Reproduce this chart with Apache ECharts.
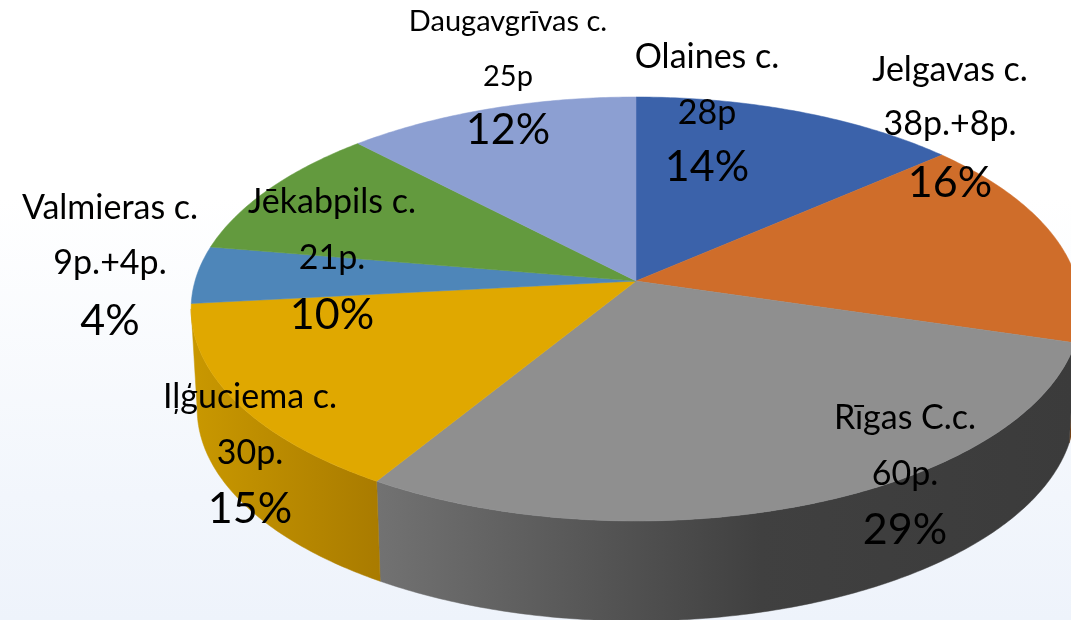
<!DOCTYPE html>
<html>
<head>
<meta charset="utf-8">
<style>html,body{margin:0;padding:0;background:#fff}#c{width:1071px;height:620px}</style>
<script src="https://cdn.jsdelivr.net/npm/echarts@6/dist/echarts.min.js"></script>
</head>
<body>
<div id="c"></div>
<script>
const categories = ['Olaines c.', 'Jelgavas c.', 'Rīgas C.c.', 'Iļģuciema c.', 'Valmieras c.', 'Jēkabpils c.', 'Daugavgrīvas c.'];
const pointLabels = ['28p', '38p.+8p.', '60p.', '30p.', '9p.+4p.', '21p.', '25p'];
const percentLabels = ['14%', '16%', '29%', '15%', '4%', '10%', '12%'];
const values = [28, 33, 60, 30, 9, 21, 25];

const topColors = ['#3B62AA', '#CF6D2A', '#8F8F8F', '#E0A800', '#4E86B9', '#639A3E', '#8C9FD2'];
const wallStops = {
  1: [[0, '#7A4212'], [1, '#7A4212']],
  2: [[0, '#727272'], [0.55, '#404040'], [1, '#3B3B3B']],
  3: [[0, '#C99800'], [1, '#A97B00']]
};
const labelPos = [[707, 57, 113, 167], [950, 70, 124, 183], [905, 418, 474, 530], [250, 397, 453, 509],
                  [110, 208, 263, 321], [332, 202, 258, 315], [508, 22, 77, 130]];
const labelSizes = [[34, 34, 43], [34, 34, 43], [34, 34, 43], [34, 34, 43], [34, 34, 43], [34, 34, 43], [29, 29, 43]];

const total = values.reduce((a, b) => a + b, 0);
const starts = [];
values.reduce((s, v, i) => { starts[i] = s; return s + v; }, 0);
const P = 0.132, G = 208.3, CX = 636;
function proj(th, f, y0) {
  const u = Math.sin(th), v = Math.cos(th), d = 1 + P * v;
  return [CX + f * u / d, y0 - G * v / d];
}
const topRim = th => proj(th, 441, 281);
const botRim = th => proj(th, 435, 381);
function arc(fn, a, b) {
  const n = Math.max(2, Math.ceil(Math.abs(b - a) * 90)), r = [];
  for (let i = 0; i <= n; i++) r.push(fn(a + (b - a) * i / n));
  return r;
}
const angle = s => s / total * Math.PI * 2;
const visA = Math.acos(-P), visB = Math.PI * 2 - visA;

const data = values.map((v, i) => [i, v]);

const option = {
  animation: false,
  backgroundColor: {
    type: 'linear', x: 0, y: 0, x2: 0, y2: 1,
    colorStops: [{offset: 0, color: '#FFFFFF'}, {offset: 0.32, color: '#FFFFFF'}, {offset: 0.8, color: '#F2F6FC'}, {offset: 1, color: '#EEF3FB'}]
  },
  series: [
    {
      type: 'custom', coordinateSystem: 'none', silent: true, z: 1, data,
      renderItem(params, api) {
        const i = api.value(0), v = api.value(1);
        const a = Math.max(angle(starts[i]), visA), b = Math.min(angle(starts[i] + v), visB);
        if (b <= a) return {type: 'group', children: []};
        const pts = arc(topRim, a, b).concat(arc(botRim, a, b).reverse());
        const xs = pts.map(p => p[0]);
        const minX = Math.min(...xs), maxX = Math.max(...xs);
        const stops = wallStops[i] || [[0, '#555'], [1, '#555']];
        const fill = {type: 'linear', global: true, x: minX, y: 0, x2: maxX, y2: 0,
          colorStops: stops.map(s => ({offset: s[0], color: s[1]}))};
        return {type: 'polygon', shape: {points: pts}, style: {fill, stroke: fill, lineWidth: 0.5}};
      }
    },
    {
      type: 'custom', coordinateSystem: 'none', silent: true, z: 2, data,
      renderItem(params, api) {
        const i = api.value(0), v = api.value(1);
        const pts = [[CX, 281]].concat(arc(topRim, angle(starts[i]), angle(starts[i] + v)));
        return {type: 'polygon', shape: {points: pts}, style: {fill: topColors[i], stroke: topColors[i], lineWidth: 0.5}};
      }
    },
    {
      type: 'custom', coordinateSystem: 'none', silent: true, z: 3, data,
      renderItem(params, api) {
        const i = api.value(0), p = labelPos[i], s = labelSizes[i];
        const lines = [categories[i], pointLabels[i], percentLabels[i]];
        return {type: 'group', children: lines.map((t, k) => ({
          type: 'text', x: p[0], y: p[k + 1],
          style: {text: t, fill: '#000', font: s[k] + 'px Lato', align: 'center', verticalAlign: 'middle'}
        }))};
      }
    }
  ]
};
const chart = echarts.init(document.getElementById('c'), null, {renderer: 'canvas'});
chart.setOption(option);
</script>
</body>
</html>
